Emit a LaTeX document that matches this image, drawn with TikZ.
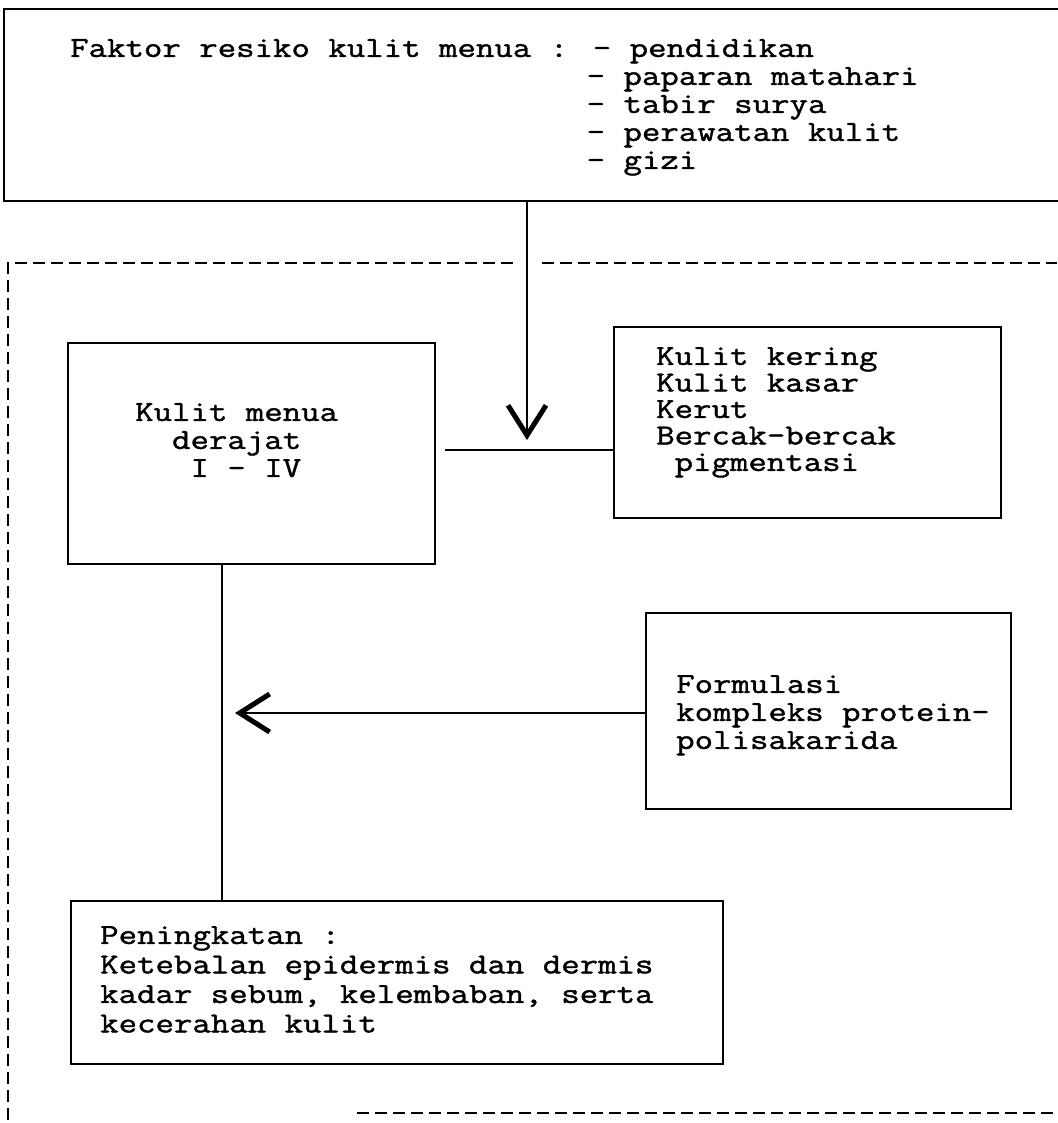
\documentclass[tikz,border=0pt]{standalone}
\usepackage{fontspec}
\newfontfamily\twfont[FakeStretch=1.235,FakeBold=1.4]{Latin Modern Mono}
\usetikzlibrary{arrows.meta,calc}
\begin{document}
\begin{tikzpicture}[x=1pt,y=-1pt,
  box/.style={draw, line width=2pt, rectangle, inner sep=0pt, anchor=north west},
  txt/.style={anchor=north west, align=left, inner sep=0pt},
  ls/.style={font=\twfont\fontsize{29}{#1}\selectfont},
  link/.style={line width=2pt},
  vee/.style={-{Straight Barb[length=30pt,width=38pt,line width=5pt]}},
  frame/.style={line width=2pt, dash pattern=on 12pt off 6pt}]
\useasboundingbox (0,0) rectangle (1057,1123);

% boxes
\node[box, minimum width=1070pt, minimum height=192pt] (fakt) at (3,8) {};
\node[box, minimum width=367pt, minimum height=221pt] (menua) at (67,342) {};
\node[box, minimum width=387pt, minimum height=191pt] (kering) at (613,326) {};
\node[box, minimum width=365pt, minimum height=196pt] (formulasi) at (645,612) {};
\node[box, minimum width=652pt, minimum height=163pt] (naik) at (70,900) {};

% texts
\node[txt, ls=28] (fakttxt) at (70,39) {Faktor resiko kulit menua : - pendidikan\\
\phantom{Faktor resiko kulit menua :} - paparan matahari\\
\phantom{Faktor resiko kulit menua :} - tabir surya\\
\phantom{Faktor resiko kulit menua :} - perawatan kulit\\
\phantom{Faktor resiko kulit menua :} - gizi};
\node[txt, ls=28] (menuatxt) at (135,403) {Kulit menua\\\phantom{xx}derajat\\\phantom{xxx}I - IV};
\node[txt, ls=26.5] (keringtxt) at (656,347) {Kulit kering\\Kulit kasar\\Kerut\\Bercak-bercak\\\phantom{x}pigmentasi};
\node[txt, ls=28] (formtxt) at (676,675) {Formulasi\\kompleks protein-\\polisakarida};
\node[txt, ls=29.5] (naiktxt) at (100,926) {Peningkatan :\\Ketebalan epidermis dan dermis\\kadar sebum, kelembaban, serta\\kecerahan kulit};

% connectors
\coordinate (tip1) at (527,440);
\draw[link, vee] (fakt.south -| tip1) -- (tip1);
\coordinate (hstart) at (445,450);
\draw[link] (hstart) -- (hstart -| kering.west);
\coordinate (tip2) at (235,713);
\draw[link, vee] (formulasi.west |- tip2) -- (tip2);
\coordinate (vx) at (222,0);
\draw[link] (menua.south -| vx) -- (naik.north -| vx);

% dashed frame
\coordinate (fa) at (513,263);
\coordinate (fb) at (8,263);
\coordinate (fc) at (8,1123);
\coordinate (fd) at (542,263);
\coordinate (fe) at (1057,263);
\coordinate (ff) at (357,1113);
\coordinate (fg) at (1057,1113);
\draw[frame] (fa) -- (fb) -- (fc);
\draw[frame] (fd) -- (fe);
\draw[frame] (ff) -- (fg);
\end{tikzpicture}
\end{document}
